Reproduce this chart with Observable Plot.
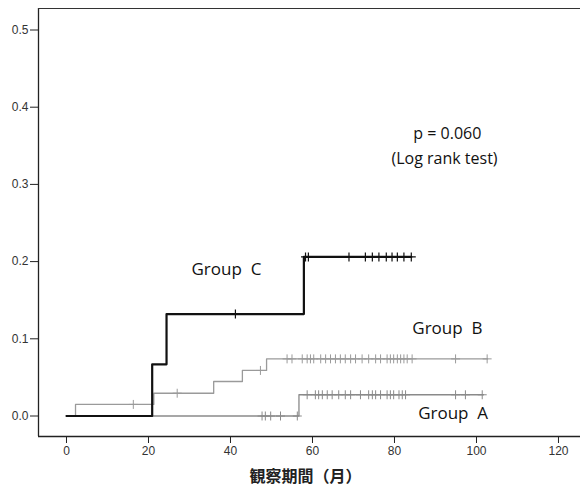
<!DOCTYPE html>
<html>
<head>
<meta charset="utf-8">
<script src="https://cdn.jsdelivr.net/npm/d3@7"></script>
<script src="https://cdn.jsdelivr.net/npm/@observablehq/plot@0.6"></script>
<style>
  html, body { margin: 0; padding: 0; background: #fff; overflow: hidden; }
  #chart svg { display: block; }
</style>
</head>
<body>
<div id="chart"></div>
<script>
// ---- Data (months, cumulative incidence) ----
const timesA  = [0, 56.7, 101.7];
const valuesA = [0, 0.0275, 0.0275];
const timesB  = [0, 2.2, 21.3, 35.9, 42.9, 48.8, 102.7];
const valuesB = [0, 0.015, 0.0295, 0.0447, 0.059, 0.074, 0.074];
const timesC  = [0, 20.9, 24.4, 57.9, 84.1];
const valuesC = [0, 0.067, 0.132, 0.206, 0.206];

const censorA = [47.7, 48.5, 49.8, 52.2, 56.3, 58.7, 60.7, 61.5, 62.4, 63.6, 64.8, 66.4, 68.0, 69.3, 71.7, 73.7, 74.6, 75.4, 76.6, 78.2, 79.0, 79.8, 81.1, 81.9, 82.7, 94.9, 97.3, 101.4];
const censorB = [16.3, 27.0, 47.3, 53.8, 55.0, 57.5, 58.7, 59.5, 60.3, 62.0, 63.2, 64.4, 65.6, 66.8, 68.0, 69.3, 70.5, 72.1, 73.7, 75.4, 76.6, 78.2, 79.0, 79.8, 80.7, 81.5, 82.3, 83.1, 84.3, 94.9, 102.6];
const censorC = [41.2, 58.3, 59.0, 68.9, 72.9, 74.6, 76.2, 78.0, 79.4, 80.7, 82.3, 84.1];

const xTicks = [0, 20, 40, 60, 80, 100, 120];
const yTicks = [0, 0.1, 0.2, 0.3, 0.4, 0.5];
const xTitle = "観察期間（月）";

const statLines = [
  {text: "p = 0.060",       x: 92.9, y: 0.3655},
  {text: "(Log rank test)", x: 92.2, y: 0.3330}
];
const groupLabels = [
  {text: "Group\u00a0\u00a0C", x: 39.0, y: 0.190},
  {text: "Group\u00a0\u00a0B", x: 92.9, y: 0.113},
  {text: "Group\u00a0\u00a0A", x: 94.3, y: 0.003}
];

// ---- Build tables ----
const curve = (times, values) => times.map((t, i) => ({t, v: values[i]}));
const levelAt = (times, values, t) => {
  let v = values[0];
  for (let i = 0; i < times.length; i++) if (times[i] <= t) v = values[i];
  return v;
};
const censors = (list, times, values) => list.map(t => ({t, v: levelAt(times, values, t)}));

const xDom = [-6.829, 125.37];
const yDom = [-0.02655, 0.52785];

const plot = Plot.plot({
  width: 580,
  height: 490,
  marginLeft: 38,
  marginRight: 0,
  marginTop: 8,
  marginBottom: 54,
  style: {fontFamily: "'Liberation Sans', Arial, sans-serif", background: "#fff"},
  x: {domain: xDom},
  y: {domain: yDom},
  marks: [
    Plot.axisX({ticks: xTicks, tickSize: 7, tickPadding: 3, fontSize: 12, label: null, stroke: "#222", color: "#333"}),
    Plot.axisY({ticks: yTicks, tickSize: 8, tickPadding: 2, fontSize: 12, label: null, tickFormat: d3.format(".1f"), stroke: "#222", color: "#333"}),
    Plot.ruleX([xDom[0]], {stroke: "#222", strokeWidth: 1.3}),
    Plot.ruleY([yDom[0]], {stroke: "#222", strokeWidth: 1.3}),
    Plot.ruleY([yDom[1]], {stroke: "#333", strokeWidth: 1.2}),
    // Group A
    Plot.line(curve(timesA, valuesA), {x: "t", y: "v", curve: "step-after", stroke: "#8a8a8a", strokeWidth: 1.3}),
    Plot.dot(censors(censorA, timesA, valuesA), {x: "t", y: "v", symbol: "plus", r: 3, stroke: "#8a8a8a", strokeWidth: 1}),
    // Group B
    Plot.line(curve(timesB, valuesB), {x: "t", y: "v", curve: "step-after", stroke: "#9a9a9a", strokeWidth: 1.3}),
    Plot.dot(censors(censorB, timesB, valuesB), {x: "t", y: "v", symbol: "plus", r: 3, stroke: "#9a9a9a", strokeWidth: 1}),
    // Group C
    Plot.line(curve(timesC, valuesC), {x: "t", y: "v", curve: "step-after", stroke: "#111", strokeWidth: 2.2}),
    Plot.dot(censors(censorC, timesC, valuesC), {x: "t", y: "v", symbol: "plus", r: 3, stroke: "#111", strokeWidth: 1.2}),
    // Annotations
    Plot.text(statLines, {x: "x", y: "y", text: "text", fontSize: 16, fill: "#111", fontFamily: "'Open Sans', sans-serif"}),
    Plot.text(groupLabels, {x: "x", y: "y", text: "text", fontSize: 17, fill: "#111", fontFamily: "'Open Sans', sans-serif"}),
    Plot.text([xTitle], {frameAnchor: "bottom", dy: 45, dx: -4, text: d => d, fontSize: 16, fontWeight: "bold", fill: "#222", fontFamily: "'Noto Sans CJK JP', sans-serif"})
  ]
});

document.getElementById("chart").appendChild(plot);
</script>
</body>
</html>
